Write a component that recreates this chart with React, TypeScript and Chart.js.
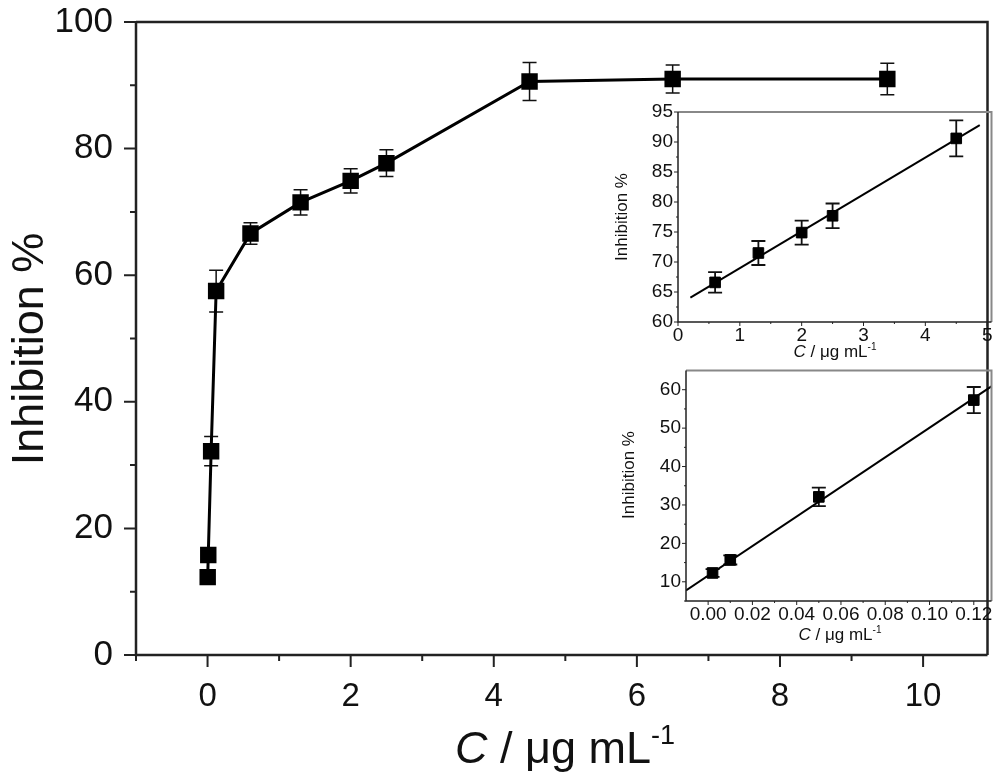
import React, { useEffect, useRef } from "react";
import { Chart, registerables } from "chart.js";
Chart.register(...registerables);

// ---------- data ----------
const mainX = [0.002, 0.01, 0.05, 0.12, 0.6, 1.3, 2.0, 2.5, 4.5, 6.5, 9.5];
const mainY = [12.3, 15.8, 32.2, 57.5, 66.6, 71.5, 74.9, 77.7, 90.6, 91.0, 91.0];
const mainErr = [0.8, 1.0, 2.3, 3.3, 1.7, 2.0, 1.9, 2.1, 3.0, 2.2, 2.5];
const mainXTicks = [0, 2, 4, 6, 8, 10];
const mainXMinor = [-1, 1, 3, 5, 7, 9];
const mainYTicks = [0, 20, 40, 60, 80, 100];
const mainYMinor = [10, 30, 50, 70, 90];

const upX = [0.6, 1.3, 2.0, 2.5, 4.5];
const upY = [66.6, 71.5, 74.9, 77.7, 90.6];
const upErr = [1.7, 2.0, 2.0, 2.05, 3.0];
const upFitX = [0.2, 4.88];
const upFitY = [64.06, 92.8];
const upXTicks = [0, 1, 2, 3, 4, 5];
const upXMinor = [0.5, 1.5, 2.5, 3.5, 4.5];
const upYTicks = [60, 65, 70, 75, 80, 85, 90, 95];
const upYMinor = [62.5, 67.5, 72.5, 77.5, 82.5, 87.5, 92.5];

const lowX = [0.002, 0.01, 0.05, 0.12];
const lowY = [12.3, 15.7, 32.1, 57.3];
const lowErr = [1.0, 1.2, 2.4, 3.4];
const lowFitX = [-0.01, 0.13];
const lowFitY = [7.75, 61.65];
const lowXTicks = [0, 0.02, 0.04, 0.06, 0.08, 0.1, 0.12];
const lowXMinor = [0.01, 0.03, 0.05, 0.07, 0.09, 0.11];
const lowYTicks = [10, 20, 30, 40, 50, 60];
const lowYMinor = [5, 15, 25, 35, 45, 55];

const FONT = "'Liberation Sans', Arial, sans-serif";

// ---------- plugins ----------
const errorBarPlugin = {
  id: "errbars",
  beforeDatasetsDraw(chart: any) {
    const ctx = chart.ctx;
    const ys = chart.scales.y;
    chart.data.datasets.forEach((ds: any, i: number) => {
      const errs = ds.errors;
      if (!errs) return;
      const meta = chart.getDatasetMeta(i);
      ctx.save();
      ctx.strokeStyle = "#111";
      ctx.lineWidth = ds.errWidth || 1.5;
      meta.data.forEach((pt: any, j: number) => {
        const v = ds.data[j].y;
        const e = errs[j];
        const x = pt.x;
        const y1 = ys.getPixelForValue(v + e);
        const y2 = ys.getPixelForValue(v - e);
        const c = ds.capHalf || 6;
        ctx.beginPath();
        ctx.moveTo(x, y1);
        ctx.lineTo(x, y2);
        ctx.moveTo(x - c, y1);
        ctx.lineTo(x + c, y1);
        ctx.moveTo(x - c, y2);
        ctx.lineTo(x + c, y2);
        ctx.stroke();
      });
      ctx.restore();
    });
  },
};

const framePlugin = {
  id: "frameTicks",
  afterDraw(chart: any, _args: any, o: any) {
    const ctx = chart.ctx;
    const { left, right, top, bottom } = chart.chartArea;
    const xs = chart.scales.x;
    const ys = chart.scales.y;
    ctx.save();
    ctx.strokeStyle = o.topColor;
    ctx.lineWidth = o.topWidth;
    ctx.beginPath();
    ctx.moveTo(left, top);
    ctx.lineTo(right, top);
    ctx.lineTo(right, bottom);
    ctx.stroke();
    ctx.strokeStyle = o.axisColor;
    ctx.lineWidth = o.axisWidth;
    ctx.beginPath();
    ctx.moveTo(left, top);
    ctx.lineTo(left, bottom);
    ctx.lineTo(right, bottom);
    ctx.stroke();
    ctx.lineWidth = o.tickWidth;
    ctx.beginPath();
    o.xMajor.forEach((v: number) => {
      const p = xs.getPixelForValue(v);
      ctx.moveTo(p, bottom);
      ctx.lineTo(p, bottom + o.major);
    });
    o.xMinor.forEach((v: number) => {
      const p = xs.getPixelForValue(v);
      ctx.moveTo(p, bottom);
      ctx.lineTo(p, bottom + o.minor);
    });
    o.yMajor.forEach((v: number) => {
      const p = ys.getPixelForValue(v);
      ctx.moveTo(left, p);
      ctx.lineTo(left - o.major, p);
    });
    o.yMinor.forEach((v: number) => {
      const p = ys.getPixelForValue(v);
      ctx.moveTo(left, p);
      ctx.lineTo(left - o.minor, p);
    });
    ctx.stroke();
    ctx.restore();
  },
};

const titlePlugin = {
  id: "axisTitles",
  afterDraw(chart: any, _args: any, o: any) {
    const ctx = chart.ctx;
    ctx.save();
    ctx.fillStyle = "#111";
    ctx.translate(o.yx, o.yy);
    ctx.rotate(-Math.PI / 2);
    ctx.font = `${o.size}px ${FONT}`;
    ctx.textAlign = "center";
    ctx.textBaseline = "alphabetic";
    ctx.fillText("Inhibition %", 0, 0);
    ctx.restore();
    ctx.save();
    ctx.fillStyle = "#111";
    ctx.textBaseline = "alphabetic";
    ctx.textAlign = "left";
    const parts = [
      { t: "C", f: `italic ${o.size}px ${FONT}`, dy: 0 },
      { t: " / \u03bcg mL", f: `${o.size}px ${FONT}`, dy: 0 },
      { t: "-1", f: `${Math.round(o.size * 0.6)}px ${FONT}`, dy: -o.size * 0.42 },
    ];
    let w = 0;
    parts.forEach((p) => {
      ctx.font = p.f;
      w += ctx.measureText(p.t).width;
    });
    let x = o.xx - w / 2;
    parts.forEach((p) => {
      ctx.font = p.f;
      ctx.fillText(p.t, x, o.xy + p.dy);
      x += ctx.measureText(p.t).width;
    });
    ctx.restore();
  },
};

function makeScale(
  min: number,
  max: number,
  ticks: number[],
  fmt: (v: number) => string,
  size: number,
  pad: number,
  fit: number,
  isX: boolean
) {
  return {
    type: "linear",
    min,
    max,
    afterBuildTicks: (s: any) => {
      s.ticks = ticks.map((v) => ({ value: v }));
    },
    afterFit: (s: any) => {
      if (isX) s.height = fit;
      else s.width = fit;
      s.paddingTop = 0;
      s.paddingBottom = 0;
      s.paddingLeft = 0;
      s.paddingRight = 0;
    },
    grid: { display: false, drawTicks: false },
    border: { display: false },
    ticks: {
      autoSkip: false,
      maxRotation: 0,
      padding: pad,
      color: "#111",
      font: { family: FONT, size },
      callback: (v: any) => fmt(Number(v)),
    },
  };
}

function buildMain(canvas: HTMLCanvasElement) {
  return new Chart(canvas, {
    type: "scatter",
    data: {
      datasets: [
        {
          data: mainX.map((x, i) => ({ x, y: mainY[i] })),
          showLine: true,
          borderColor: "#000",
          borderWidth: 3,
          pointStyle: "rect",
          pointRadius: 9.5,
          pointBackgroundColor: "#000",
          pointBorderColor: "#000",
          errors: mainErr,
          capHalf: 7,
          errWidth: 1.5,
        } as any,
      ],
    },
    options: {
      animation: false,
      responsive: false,
      layout: { padding: { left: 0, top: 22, right: 6, bottom: 0 } },
      plugins: {
        legend: { display: false },
        tooltip: { enabled: false },
        frameTicks: {
          topColor: "#222",
          topWidth: 2.5,
          axisColor: "#222",
          axisWidth: 2.5,
          tickWidth: 2,
          major: 12,
          minor: 6,
          xMajor: mainXTicks,
          xMinor: mainXMinor,
          yMajor: mainYTicks,
          yMinor: mainYMinor,
        },
        axisTitles: { size: 45, yx: 43, yy: 349, xx: 565, xy: 763 },
      } as any,
      scales: {
        x: makeScale(-1, 10.9, mainXTicks, (v) => String(v), 33, 22, 127, true),
        y: makeScale(0, 100, mainYTicks, (v) => String(v), 35, 23, 136, false),
      } as any,
    },
    plugins: [errorBarPlugin, framePlugin, titlePlugin],
  } as any);
}

function buildInset(
  canvas: HTMLCanvasElement,
  cfg: {
    px: number[]; py: number[]; pe: number[]; fx: number[]; fy: number[];
    xmin: number; xmax: number; ymin: number; ymax: number;
    xt: number[]; xm: number[]; yt: number[]; ym: number[];
    xfmt: (v: number) => string; padTop: number; yWidth: number; xHeight: number;
    titles: any;
  }
) {
  return new Chart(canvas, {
    type: "scatter",
    data: {
      datasets: [
        {
          data: cfg.fx.map((x, i) => ({ x, y: cfg.fy[i] })),
          showLine: true,
          borderColor: "#000",
          borderWidth: 2,
          pointRadius: 0,
        },
        {
          data: cfg.px.map((x, i) => ({ x, y: cfg.py[i] })),
          showLine: false,
          pointStyle: "rect",
          pointRadius: 7.5,
          pointBackgroundColor: "#000",
          pointBorderColor: "#000",
          errors: cfg.pe,
          capHalf: 7,
          errWidth: 1.8,
        } as any,
      ],
    },
    options: {
      animation: false,
      responsive: false,
      layout: { padding: { left: 0, top: cfg.padTop, right: 7, bottom: 0 } },
      plugins: {
        legend: { display: false },
        tooltip: { enabled: false },
        frameTicks: {
          topColor: "#888",
          topWidth: 2,
          axisColor: "#222",
          axisWidth: 1.5,
          tickWidth: 1,
          major: 4,
          minor: 2,
          xMajor: cfg.xt,
          xMinor: cfg.xm,
          yMajor: cfg.yt,
          yMinor: cfg.ym,
        },
        axisTitles: cfg.titles,
      } as any,
      scales: {
        x: makeScale(cfg.xmin, cfg.xmax, cfg.xt, cfg.xfmt, 19, 2, cfg.xHeight, true),
        y: makeScale(cfg.ymin, cfg.ymax, cfg.yt, (v) => String(v), 19, 5, cfg.yWidth, false),
      } as any,
    },
    plugins: [errorBarPlugin, framePlugin, titlePlugin],
  } as any);
}

export default function App() {
  const mainRef = useRef<HTMLCanvasElement>(null);
  const upRef = useRef<HTMLCanvasElement>(null);
  const lowRef = useRef<HTMLCanvasElement>(null);

  useEffect(() => {
    const charts: Chart[] = [];
    if (mainRef.current) charts.push(buildMain(mainRef.current));
    if (upRef.current)
      charts.push(
        buildInset(upRef.current, {
          px: upX, py: upY, pe: upErr, fx: upFitX, fy: upFitY,
          xmin: 0, xmax: 5.07, ymin: 60, ymax: 95,
          xt: upXTicks, xm: upXMinor, yt: upYTicks, ym: upYMinor,
          xfmt: (v) => String(v), padTop: 17, yWidth: 78, xHeight: 40,
          titles: { size: 17, yx: 27, yy: 122, xx: 235, xy: 262 },
        })
      );
    if (lowRef.current)
      charts.push(
        buildInset(lowRef.current, {
          px: lowX, py: lowY, pe: lowErr, fx: lowFitX, fy: lowFitY,
          xmin: -0.01, xmax: 0.128, ymin: 5, ymax: 65,
          xt: lowXTicks, xm: lowXMinor, yt: lowYTicks, ym: lowYMinor,
          xfmt: (v) => v.toFixed(2), padTop: 8, yWidth: 86, xHeight: 44,
          titles: { size: 17, yx: 34, yy: 113, xx: 240, xy: 278 },
        })
      );
    return () => charts.forEach((c) => c.destroy());
  }, []);

  return (
    <div style={{ position: "absolute", left: 0, top: 0, width: 1000, height: 782, background: "#fff" }}>
      <canvas ref={mainRef} width={1000} height={782} style={{ position: "absolute", left: 0, top: 0, width: 1000, height: 782 }} />
      <canvas ref={upRef} width={400} height={267} style={{ position: "absolute", left: 600, top: 95, width: 400, height: 267 }} />
      <canvas ref={lowRef} width={400} height={283} style={{ position: "absolute", left: 600, top: 362, width: 400, height: 283 }} />
    </div>
  );
}
